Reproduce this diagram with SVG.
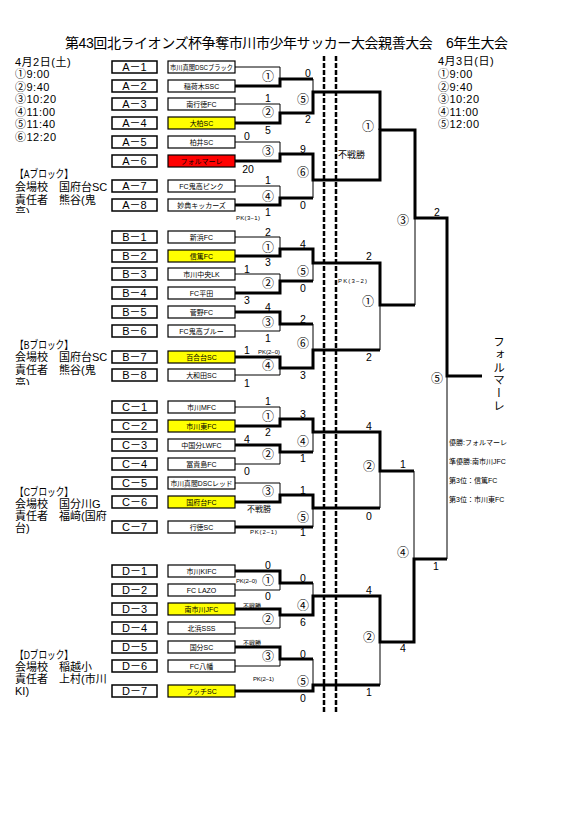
<svg xmlns="http://www.w3.org/2000/svg" width="580" height="822" viewBox="0 0 580 822">
<style>
text{font-family:"Liberation Sans","Noto Sans CJK JP",sans-serif;dominant-baseline:central;fill:#000}
.cb{fill:#fff;stroke:#000;stroke-width:1.5}
.tb{fill:#fff;stroke:#000;stroke-width:1.2}
.yl{fill:#ffff00}
.rd{fill:#ff0000}
.th{fill:none;stroke:#000;stroke-width:3;stroke-linejoin:miter}
.tn{fill:none;stroke:#000;stroke-width:1}
.dash{fill:none;stroke:#000;stroke-width:2.5;stroke-dasharray:5 2}
.sc{font-size:10.5px;text-anchor:middle}
.mn{font-size:12px;text-anchor:middle;fill:#333}
.nm{font-size:7px;text-anchor:middle}
.cd{font-size:11px;text-anchor:middle}
.nt{font-size:11px}
.tm{font-size:11px;letter-spacing:0.5px}
.pk{font-size:6px}
.rs{font-size:7px}
</style>
<defs>
<clipPath id="clipA"><rect x="0" y="0" width="110" height="213"/></clipPath>
<clipPath id="clipB"><rect x="0" y="300" width="110" height="85"/></clipPath>
</defs>
<rect width="580" height="822" fill="#fff"/>
<text id="title" x="65" y="43" font-size="14" textLength="443" lengthAdjust="spacing">第43回北ライオンズ杯争奪市川市少年サッカー大会親善大会　6年生大会</text>

<g id="notes-day1" class="tm">
<text x="15" y="62">4月2日(土)</text>
<text x="15" y="74">①9:00</text>
<text x="15" y="86.5">②9:40</text>
<text x="15" y="99">③10:20</text>
<text x="15" y="111.5">④11:00</text>
<text x="15" y="124">⑤11:40</text>
<text x="15" y="136.5">⑥12:20</text>
</g>
<g id="notes-day2" class="tm">
<text x="438" y="61">4月3日(日)</text>
<text x="438" y="74">①9:00</text>
<text x="438" y="86.5">②9:40</text>
<text x="438" y="99">③10:20</text>
<text x="438" y="111.5">④11:00</text>
<text x="438" y="124">⑤12:00</text>
</g>
<g id="info-A" class="nt">
<text x="15" y="174" textLength="58" lengthAdjust="spacingAndGlyphs">【Aブロック】</text>
<text x="15" y="187">会場校　国府台SC</text>
<text x="15" y="200">責任者　熊谷(鬼</text>
<text x="15" y="212" clip-path="url(#clipA)">高)</text>
</g>
<g id="info-B" class="nt">
<text x="15" y="345" textLength="58" lengthAdjust="spacingAndGlyphs">【Bブロック】</text>
<text x="15" y="357">会場校　国府台SC</text>
<text x="15" y="370">責任者　熊谷(鬼</text>
<text x="15" y="383" clip-path="url(#clipB)">高)</text>
</g>
<g id="info-C" class="nt">
<text x="15" y="492" textLength="58" lengthAdjust="spacingAndGlyphs">【Cブロック】</text>
<text x="15" y="504">会場校　国分川G</text>
<text x="15" y="516">責任者　福﨑(国府</text>
<text x="15" y="528">台)</text>
</g>
<g id="info-D" class="nt">
<text x="15" y="655" textLength="58" lengthAdjust="spacingAndGlyphs">【Dブロック】</text>
<text x="15" y="667">会場校　稲越小</text>
<text x="15" y="679">責任者　上村(市川</text>
<text x="15" y="691">KI)</text>
</g>

<g id="connectors">
<line class="dash" x1="324" y1="56" x2="324" y2="712"/>
<line class="dash" x1="336" y1="56" x2="336" y2="712"/>
<path class="tn" d="M235,67H280V79M235,104H280V113M313,79V92M235,142H280V154M235,186H280V198M313,180V198M415,218V305M447,376V559"/>
<path class="th" d="M235,86H280V79H313"/>
<path class="th" d="M235,123H280V113H313V92H380V130"/>
<path class="th" d="M235,161H280V154H313V180H380V130H415V218H447V376H482"/>
<path class="th" d="M235,205H280V198H313"/>
<path class="tn" d="M235,237H280V249M235,274H280V281M313,263V281M235,331H280V324M235,375H280V368M313,324V350M380,305V350"/>
<path class="th" d="M235,256H280V249H313V263H380V305H415"/>
<path class="th" d="M235,293H280V281H313"/>
<path class="th" d="M235,312H280V324H313"/>
<path class="th" d="M235,357H280V368H313V350H380"/>
<path class="tn" d="M235,407H280V419M235,464H280V452M313,432V452M235,483H280V495M313,508V527M380,471V508M414,471V559"/>
<path class="th" d="M235,426H280V419H313V432H380V471H414"/>
<path class="th" d="M235,445H280V452H313"/>
<path class="th" d="M235,502H280V495H313V508H380"/>
<path class="th" d="M235,527H313"/>
<path class="tn" d="M235,590H280V583M313,583V596M235,628H280V615M235,666H280V659M313,659V685M380,642V685"/>
<path class="th" d="M235,571H280V583H313"/>
<path class="th" d="M235,609H280V615H313V596H380V642H414V559H447"/>
<path class="th" d="M235,647H280V659H313"/>
<path class="th" d="M235,691H313V685H380"/>
</g>

<g id="nodes-A">
<g id="A-1"><rect class="cb" x="112" y="61" width="45" height="12"/><text class="cd" x="134.5" y="67">A－1</text><rect class="tb" x="168" y="61" width="67" height="12"/><text class="nm" x="201.5" y="67" textLength="63" lengthAdjust="spacingAndGlyphs">市川真間DSCブラック</text></g>
<g id="A-2"><rect class="cb" x="112" y="80" width="45" height="12"/><text class="cd" x="134.5" y="86">A－2</text><rect class="tb" x="168" y="80" width="67" height="12"/><text class="nm" x="201.5" y="86">稲荷木SSC</text></g>
<g id="A-3"><rect class="cb" x="112" y="98" width="45" height="12"/><text class="cd" x="134.5" y="104">A－3</text><rect class="tb" x="168" y="98" width="67" height="12"/><text class="nm" x="201.5" y="104">南行徳FC</text></g>
<g id="A-4"><rect class="cb" x="112" y="117" width="45" height="12"/><text class="cd" x="134.5" y="123">A－4</text><rect class="tb yl" x="168" y="117" width="67" height="12"/><text class="nm" x="201.5" y="123">大柏SC</text></g>
<g id="A-5"><rect class="cb" x="112" y="136" width="45" height="12"/><text class="cd" x="134.5" y="142">A－5</text><rect class="tb" x="168" y="136" width="67" height="12"/><text class="nm" x="201.5" y="142">柏井SC</text></g>
<g id="A-6"><rect class="cb" x="112" y="155" width="45" height="12"/><text class="cd" x="134.5" y="161">A－6</text><rect class="tb rd" x="168" y="155" width="67" height="12"/><text class="nm" x="201.5" y="161">フォルマーレ</text></g>
<g id="A-7"><rect class="cb" x="112" y="180" width="45" height="12"/><text class="cd" x="134.5" y="186">A－7</text><rect class="tb" x="168" y="180" width="67" height="12"/><text class="nm" x="201.5" y="186">FC鬼高ピンク</text></g>
<g id="A-8"><rect class="cb" x="112" y="199" width="45" height="12"/><text class="cd" x="134.5" y="205">A－8</text><rect class="tb" x="168" y="199" width="67" height="12"/><text class="nm" x="201.5" y="205">妙典キッカーズ</text></g>
</g>
<g id="nodes-B">
<g id="B-1"><rect class="cb" x="112" y="231" width="45" height="12"/><text class="cd" x="134.5" y="237">B－1</text><rect class="tb" x="168" y="231" width="67" height="12"/><text class="nm" x="201.5" y="237">新浜FC</text></g>
<g id="B-2"><rect class="cb" x="112" y="250" width="45" height="12"/><text class="cd" x="134.5" y="256">B－2</text><rect class="tb yl" x="168" y="250" width="67" height="12"/><text class="nm" x="201.5" y="256">信篤FC</text></g>
<g id="B-3"><rect class="cb" x="112" y="268" width="45" height="12"/><text class="cd" x="134.5" y="274">B－3</text><rect class="tb" x="168" y="268" width="67" height="12"/><text class="nm" x="201.5" y="274">市川中央LK</text></g>
<g id="B-4"><rect class="cb" x="112" y="287" width="45" height="12"/><text class="cd" x="134.5" y="293">B－4</text><rect class="tb" x="168" y="287" width="67" height="12"/><text class="nm" x="201.5" y="293">FC平田</text></g>
<g id="B-5"><rect class="cb" x="112" y="306" width="45" height="12"/><text class="cd" x="134.5" y="312">B－5</text><rect class="tb" x="168" y="306" width="67" height="12"/><text class="nm" x="201.5" y="312">菅野FC</text></g>
<g id="B-6"><rect class="cb" x="112" y="325" width="45" height="12"/><text class="cd" x="134.5" y="331">B－6</text><rect class="tb" x="168" y="325" width="67" height="12"/><text class="nm" x="201.5" y="331">FC鬼高ブルー</text></g>
<g id="B-7"><rect class="cb" x="112" y="351" width="45" height="12"/><text class="cd" x="134.5" y="357">B－7</text><rect class="tb yl" x="168" y="351" width="67" height="12"/><text class="nm" x="201.5" y="357">百合台SC</text></g>
<g id="B-8"><rect class="cb" x="112" y="369" width="45" height="12"/><text class="cd" x="134.5" y="375">B－8</text><rect class="tb" x="168" y="369" width="67" height="12"/><text class="nm" x="201.5" y="375">大和田SC</text></g>
</g>
<g id="nodes-C">
<g id="C-1"><rect class="cb" x="112" y="401" width="45" height="12"/><text class="cd" x="134.5" y="407">C－1</text><rect class="tb" x="168" y="401" width="67" height="12"/><text class="nm" x="201.5" y="407">市川MFC</text></g>
<g id="C-2"><rect class="cb" x="112" y="420" width="45" height="12"/><text class="cd" x="134.5" y="426">C－2</text><rect class="tb yl" x="168" y="420" width="67" height="12"/><text class="nm" x="201.5" y="426">市川東FC</text></g>
<g id="C-3"><rect class="cb" x="112" y="439" width="45" height="12"/><text class="cd" x="134.5" y="445">C－3</text><rect class="tb" x="168" y="439" width="67" height="12"/><text class="nm" x="201.5" y="445">中国分LWFC</text></g>
<g id="C-4"><rect class="cb" x="112" y="458" width="45" height="12"/><text class="cd" x="134.5" y="464">C－4</text><rect class="tb" x="168" y="458" width="67" height="12"/><text class="nm" x="201.5" y="464">冨貴島FC</text></g>
<g id="C-5"><rect class="cb" x="112" y="477" width="45" height="12"/><text class="cd" x="134.5" y="483">C－5</text><rect class="tb" x="168" y="477" width="67" height="12"/><text class="nm" x="201.5" y="483" textLength="62" lengthAdjust="spacingAndGlyphs">市川真間DSCレッド</text></g>
<g id="C-6"><rect class="cb" x="112" y="496" width="45" height="12"/><text class="cd" x="134.5" y="502">C－6</text><rect class="tb yl" x="168" y="496" width="67" height="12"/><text class="nm" x="201.5" y="502">国府台FC</text></g>
<g id="C-7"><rect class="cb" x="112" y="521" width="45" height="12"/><text class="cd" x="134.5" y="527">C－7</text><rect class="tb" x="168" y="521" width="67" height="12"/><text class="nm" x="201.5" y="527">行徳SC</text></g>
</g>
<g id="nodes-D">
<g id="D-1"><rect class="cb" x="112" y="565" width="45" height="12"/><text class="cd" x="134.5" y="571">D－1</text><rect class="tb" x="168" y="565" width="67" height="12"/><text class="nm" x="201.5" y="571">市川KIFC</text></g>
<g id="D-2"><rect class="cb" x="112" y="584" width="45" height="12"/><text class="cd" x="134.5" y="590">D－2</text><rect class="tb" x="168" y="584" width="67" height="12"/><text class="nm" x="201.5" y="590">FC LAZO</text></g>
<g id="D-3"><rect class="cb" x="112" y="603" width="45" height="12"/><text class="cd" x="134.5" y="609">D－3</text><rect class="tb yl" x="168" y="603" width="67" height="12"/><text class="nm" x="201.5" y="609">南市川JFC</text></g>
<g id="D-4"><rect class="cb" x="112" y="622" width="45" height="12"/><text class="cd" x="134.5" y="628">D－4</text><rect class="tb" x="168" y="622" width="67" height="12"/><text class="nm" x="201.5" y="628">北浜SSS</text></g>
<g id="D-5"><rect class="cb" x="112" y="641" width="45" height="12"/><text class="cd" x="134.5" y="647">D－5</text><rect class="tb" x="168" y="641" width="67" height="12"/><text class="nm" x="201.5" y="647">国分SC</text></g>
<g id="D-6"><rect class="cb" x="112" y="660" width="45" height="12"/><text class="cd" x="134.5" y="666">D－6</text><rect class="tb" x="168" y="660" width="67" height="12"/><text class="nm" x="201.5" y="666">FC八幡</text></g>
<g id="D-7"><rect class="cb" x="112" y="685" width="45" height="12"/><text class="cd" x="134.5" y="691">D－7</text><rect class="tb yl" x="168" y="685" width="67" height="12"/><text class="nm" x="201.5" y="691">フッチSC</text></g>
</g>

<g id="match-labels" class="mn">
<text x="268" y="77">①</text><text x="268" y="113">②</text><text x="303" y="100">⑤</text>
<text x="268" y="152">③</text><text x="268" y="197">④</text><text x="303" y="173">⑥</text>
<text x="268" y="248">①</text><text x="268" y="284">②</text><text x="303" y="272">⑤</text>
<text x="268" y="323">③</text><text x="268" y="366">④</text><text x="303" y="344">⑥</text>
<text x="268" y="417">①</text><text x="268" y="455">②</text><text x="303" y="442">④</text>
<text x="268" y="492">③</text><text x="303" y="518">⑤</text>
<text x="268" y="581">①</text><text x="268" y="620">②</text><text x="303" y="606">④</text>
<text x="268" y="657">③</text><text x="303" y="682">⑤</text>
<text x="368" y="127">①</text><text x="368" y="302">①</text><text x="403" y="221">③</text>
<text x="369" y="467">②</text><text x="369" y="638">②</text><text x="403" y="553">④</text>
<text x="437" y="379">⑤</text>
</g>

<g id="scores" class="sc">
<text x="308" y="73">0</text><text x="308" y="119">2</text><text x="268" y="98">1</text><text x="268" y="130">5</text>
<text x="247" y="136">0</text><text x="248" y="169">20</text><text x="303" y="149">9</text><text x="303" y="205">0</text>
<text x="268" y="180">1</text><text x="268" y="212">1</text>
<text x="268" y="232">2</text><text x="268" y="262">3</text><text x="303" y="244">4</text><text x="303" y="288">0</text>
<text x="247" y="269">1</text><text x="247" y="300">3</text><text x="268" y="307">4</text><text x="268" y="338">1</text>
<text x="303" y="319">2</text><text x="303" y="375">3</text><text x="247" y="350">1</text><text x="247" y="383">1</text>
<text x="369" y="256">2</text><text x="369" y="357">2</text><text x="437" y="212">2</text>
<text x="268" y="401">1</text><text x="268" y="432">2</text><text x="303" y="414">3</text><text x="303" y="458">1</text>
<text x="247" y="439">4</text><text x="247" y="471">0</text><text x="303" y="490">1</text><text x="303" y="532">1</text>
<text x="369" y="426">4</text><text x="369" y="516">0</text><text x="403" y="464">1</text>
<text x="268" y="565">0</text><text x="268" y="596">0</text><text x="303" y="578">0</text><text x="303" y="622">6</text>
<text x="303" y="654">0</text><text x="303" y="698">0</text>
<text x="369" y="590">4</text><text x="369" y="692">1</text><text x="403" y="648">4</text><text x="436" y="566">1</text>
</g>

<g id="notes-pk">
<text class="pk" x="236" y="218" textLength="24" lengthAdjust="spacing">PK(3−1)</text>
<text class="pk" x="258" y="352" textLength="22" lengthAdjust="spacing">PK(2−0)</text>
<text class="pk" x="338" y="281" textLength="29" lengthAdjust="spacing">PK(3−2)</text>
<text class="pk" x="250" y="532" textLength="27" lengthAdjust="spacing">PK(2−1)</text>
<text class="pk" x="236" y="581" textLength="21" lengthAdjust="spacing">PK(2−0)</text>
<text class="pk" x="253" y="679" textLength="21" lengthAdjust="spacing">PK(2−1)</text>
<text x="338" y="155" font-size="9">不戦勝</text>
<text x="247" y="509" font-size="8">不戦勝</text>
<text x="243" y="606" font-size="6">不戦勝</text>
<text x="243" y="643" font-size="6">不戦勝</text>
</g>

<g id="champion">
<text x="498" y="336" font-size="11.5" letter-spacing="1.2" style="writing-mode:vertical-rl;dominant-baseline:central">フォルマーレ</text>
</g>
<g id="results" class="rs">
<text x="449" y="442">優勝:フォルマーレ</text>
<text x="449" y="461">準優勝:南市川JFC</text>
<text x="449" y="480">第3位：信篤FC</text>
<text x="449" y="499">第3位：市川東FC</text>
</g>
</svg>
